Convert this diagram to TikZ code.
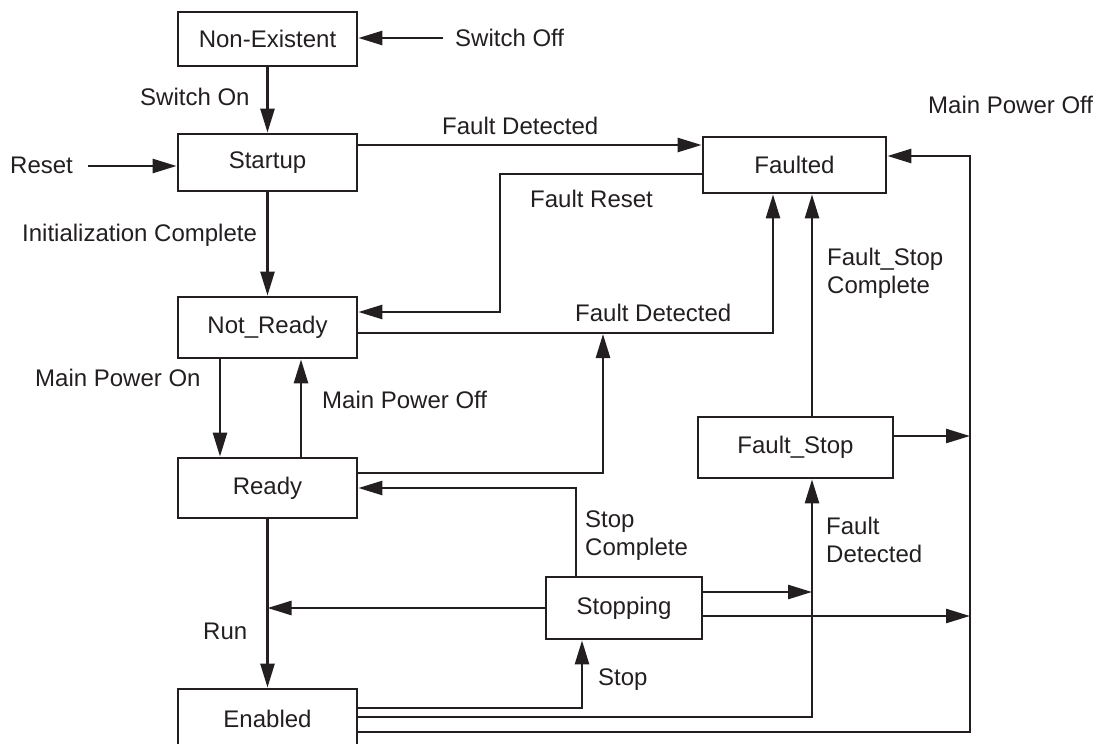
\documentclass[tikz,border=0pt]{standalone}
\usepackage{fontspec}
\setmainfont{Liberation Sans}
\usetikzlibrary{arrows.meta}
\definecolor{ink}{RGB}{35,31,32}
\begin{document}
\begin{tikzpicture}[x=1pt,y=-1pt,
  every node/.style={font=\fontsize{24}{28}\selectfont, text=ink},
  state/.style={draw=ink, line width=2.8pt, inner sep=0pt, minimum height=#1},
  state/.default=57pt,
  lbl/.style={anchor=west, inner sep=0pt, align=left},
  arr/.style={draw=ink, line width=2.6pt, -{Triangle[length=24pt,width=14pt]}}]
\useasboundingbox (0,0) rectangle (1101,744);
% states
\node[state=54pt, minimum width=179pt] (NE) at (267.5,39) {Non-Existent};
\node[state=57pt, minimum width=179pt] (SU) at (267.5,162.5) {Startup};
\node[state=61pt, minimum width=179pt] (NR) at (267.5,327.5) {Not\_Ready};
\node[state=60pt, minimum width=179pt] (RD) at (267.5,488) {Ready};
\node[state=60pt, minimum width=179pt] (EN) at (267.5,719) {Enabled};
\node[state=56pt, minimum width=183pt] (FT) at (794.5,165) {Faulted};
\node[state=61pt, minimum width=195pt] (FS) at (795.5,447.5) {Fault\_Stop};
\node[state=62pt, minimum width=156pt] (ST) at (624,608) {Stopping};
% labels
\node[lbl] (lswoff) at (455,38) {Switch Off};
\node[lbl] (lswon) at (140,97) {Switch On};
\node[lbl] (lreset) at (10,165) {Reset};
\node[lbl] (lfd1) at (442,126) {Fault Detected};
\node[lbl] (lfr) at (530,199) {Fault Reset};
\node[lbl] (linit) at (22,235) {Initialization Complete};
\node[lbl] (lfd2) at (575,313) {Fault Detected};
\node[lbl] (lmpon) at (35,378) {Main Power On};
\node[lbl] (lmpoff) at (322,400) {Main Power Off};
\node[lbl] (lmpoff2) at (928,105) {Main Power Off};
\node[lbl] (lfsc) at (827,273) {Fault\_Stop\\Complete};
\node[lbl] (lsc) at (585,536) {Stop\\Complete};
\node[lbl] (lfd3) at (826,540) {Fault\\Detected};
\node[lbl] (lrun) at (203,631) {Run};
\node[lbl] (lstop) at (598,680) {Stop};
% coordinates
\coordinate (reset0) at (88,166);
\coordinate (fr1) at (500,174);
\coordinate (fr2) at (500,312);
\coordinate (nf) at (773,333);
\coordinate (rf) at (603,473);
\coordinate (rft) at (603,334);
\coordinate (bustop) at (970,156);
\coordinate (busbot) at (970,732);
\coordinate (fdbot) at (812,717);
\coordinate (stopx) at (582,708);
% connectors
\draw[arr] ([xshift=-12pt]lswoff.west) -- (lswoff.west -| NE.east);
\draw[arr] (NE.south) -- (SU.north);
\draw[arr] (reset0) -- (reset0 -| SU.west);
\draw[arr] ([yshift=17.5pt]SU.east) -- ([yshift=17.5pt]SU.east -| FT.west);
\draw[arr] ([yshift=-9pt]FT.west) -- (fr1) -- (fr2) -- (fr2 -| NR.east);
\draw[arr] (SU.south) -- (NR.north);
\draw[arr] ([yshift=-5.5pt]NR.east) -- (nf) -- (nf |- FT.south);
\draw[arr] ([yshift=15pt]RD.east) -- (rf) -- (rft);
\draw[arr] ([xshift=-47.5pt]NR.south) -- ([xshift=-47.5pt]RD.north);
\draw[arr] ([xshift=33.5pt]RD.north) -- ([xshift=33.5pt]NR.south);
\draw[arr] ([xshift=16.5pt]FS.north) -- ([xshift=16.5pt]FS.north |- FT.south);
\draw[arr] ([yshift=-13pt]EN.east) -- (busbot) -- (bustop) -- (bustop -| FT.east);
\draw[arr] ([yshift=11.5pt]FS.east) -- ([yshift=11.5pt]FS.east -| bustop);
\draw[arr] ([xshift=-48pt]ST.north) |- (RD.east);
\draw[arr] (ST.west) -- (ST.west -| RD.south);
\draw[arr] (RD.south) -- (EN.north);
\draw[arr] ([yshift=16pt]ST.east) -- ([yshift=16pt]ST.east -| fdbot);
\draw[arr] ([yshift=-8pt]ST.east) -- ([yshift=-8pt]ST.east -| bustop);
\draw[arr] ([yshift=2pt]EN.east) -- (fdbot) -- (fdbot |- FS.south);
\draw[arr] ([yshift=11pt]EN.east) -- (stopx) -- (stopx |- ST.south);
\end{tikzpicture}
\end{document}
